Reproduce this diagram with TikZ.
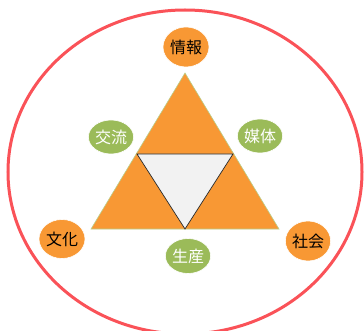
\documentclass[tikz,border=0pt]{standalone}
\usepackage{fontspec}
\newfontfamily\jpfont{Noto Sans CJK JP}
\usetikzlibrary{shapes.geometric}
\definecolor{ringred}{RGB}{250,82,88}
\definecolor{orfill}{RGB}{248,152,52}
\definecolor{grfill}{RGB}{155,187,89}
\definecolor{inner}{RGB}{242,242,242}
\tikzset{
  orbub/.style={ellipse, fill=orfill, draw=white, line width=0.6pt, inner sep=0pt, font=\jpfont\fontsize{16}{16}\selectfont, text=black},
  grbub/.style={ellipse, fill=grfill, draw=white, line width=0.6pt, inner sep=0pt, font=\jpfont\fontsize{16}{16}\selectfont, text=white},
}
\begin{document}
\begin{tikzpicture}[x=1pt,y=-1pt]
\useasboundingbox (0,0) rectangle (364,331);
\clip (0,0) rectangle (364,331);
\draw[ringred, line width=3pt] (185,172) ellipse [x radius=177, y radius=162];
% big triangle
\coordinate (A) at (185,73);
\coordinate (B) at (91,229);
\coordinate (C) at (279,229);
\coordinate (L) at (137,154);
\coordinate (R) at (233,154);
\coordinate (M) at (185,229);
\fill[orfill, draw=grfill!70, line width=0.6pt] (A) -- (B) -- (C) -- cycle;
\fill[inner, draw=black!85, line width=0.7pt] (L) -- (R) -- (M) -- cycle;
% bubbles
\node[orbub, minimum width=46pt, minimum height=40pt] (joho) at (186,47) {情報};
\node[grbub, minimum width=41pt, minimum height=34pt] (koryu) at (111,137) {交流};
\node[grbub, minimum width=40pt, minimum height=34pt] (baitai) at (260,136) {媒体};
\node[orbub, minimum width=46pt, minimum height=39pt] (bunka) at (62,239) {文化};
\node[orbub, minimum width=45pt, minimum height=40pt] (shakai) at (308,241) {社会};
\node[grbub, minimum width=42pt, minimum height=35pt] (seisan) at (188,256) {生産};
\end{tikzpicture}
\end{document}
